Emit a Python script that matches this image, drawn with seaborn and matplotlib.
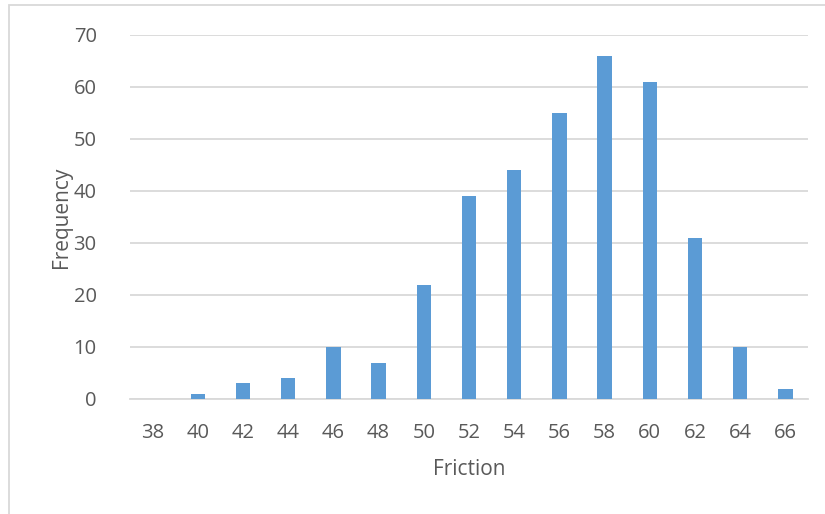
import matplotlib
matplotlib.use('Agg')
import matplotlib.pyplot as plt
import seaborn as sns
import pandas as pd
from matplotlib.patches import Rectangle

# Data
friction = [38, 40, 42, 44, 46, 48, 50, 52, 54, 56, 58, 60, 62, 64, 66]
frequency = [0, 1, 3, 4, 10, 7, 22, 39, 44, 55, 66, 61, 31, 10, 2]
y_ticks = [0, 10, 20, 30, 40, 50, 60, 70]

df = pd.DataFrame({'Friction': [str(f) for f in friction], 'Frequency': frequency})

sns.set_theme(style='white')
plt.rcParams['font.family'] = ['Open Sans', 'DejaVu Sans']

text_color = '#595959'
grid_color = '#D9D9D9'
bar_color = '#5B9BD5'

fig = plt.figure(figsize=(8.25, 5.14), dpi=100)
ax = fig.add_axes([130 / 825, 1 - 399 / 514, 678 / 825, 364 / 514])

sns.barplot(data=df, x='Friction', y='Frequency', order=df['Friction'],
            color=bar_color, saturation=1, width=0.32, linewidth=0,
            ax=ax, zorder=3)

ax.set_ylim(0, 70)
ax.set_xlim(-0.5, len(friction) - 0.5)
ax.set_yticks(y_ticks)
ax.yaxis.grid(True, color=grid_color, linewidth=1.3, zorder=0)
ax.xaxis.grid(False)
for side in ['top', 'right', 'left']:
    ax.spines[side].set_visible(False)
ax.spines['bottom'].set_color(grid_color)
ax.spines['bottom'].set_linewidth(1.3)
ax.tick_params(axis='both', length=0, labelsize=14.5, colors=text_color)
ax.tick_params(axis='y', pad=24)
ax.tick_params(axis='x', pad=17)

ax.set_xlabel('Friction', fontsize=15, color=text_color, labelpad=12)
ax.set_ylabel('Frequency', fontsize=15, color=text_color, labelpad=1)

# chart frame (only left and top visible in the crop)
fig.patches.append(Rectangle((9 / 825, -0.1), 1.2, 1 - 5 / 514 + 0.1,
                             transform=fig.transFigure, fill=False,
                             edgecolor=grid_color, linewidth=1.3))

fig.savefig('out.png', dpi=100)
